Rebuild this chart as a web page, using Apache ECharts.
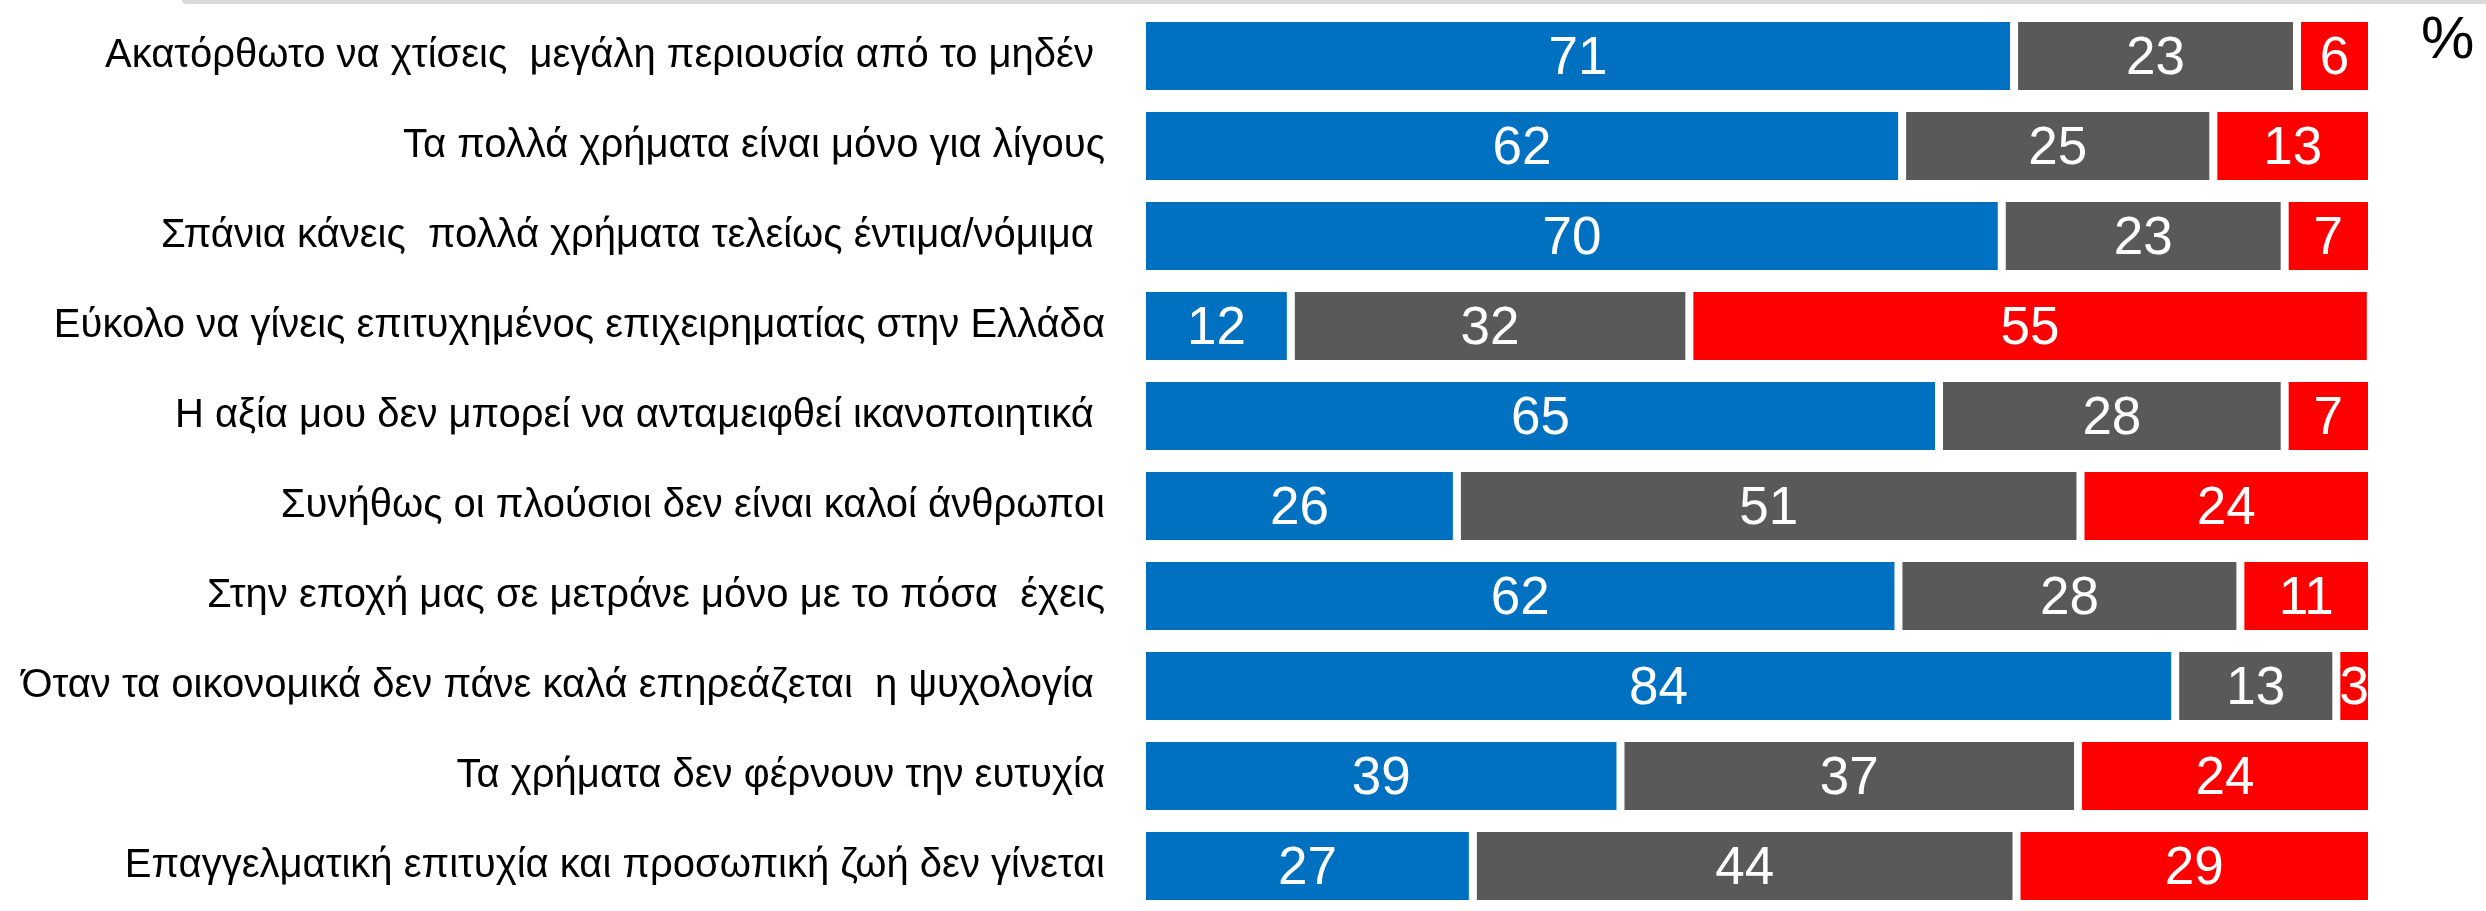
<!DOCTYPE html>
<html>
<head>
<meta charset="utf-8">
<title>Χρήματα</title>
<script src="https://cdn.jsdelivr.net/npm/echarts@6/dist/echarts.min.js"></script>
<style>
    html, body { margin: 0; padding: 0; background: #fff; }
    #chart { width: 2486px; height: 911px; }
</style>
</head>
<body>
<div id="chart"></div>
<script>
var categories = [
    'Ακατόρθωτο να χτίσεις  μεγάλη περιουσία από το μηδέν ',
    'Τα πολλά χρήματα είναι μόνο για λίγους',
    'Σπάνια κάνεις  πολλά χρήματα τελείως έντιμα/νόμιμα ',
    'Εύκολο να γίνεις επιτυχημένος επιχειρηματίας στην Ελλάδα',
    'Η αξία μου δεν μπορεί να ανταμειφθεί ικανοποιητικά ',
    'Συνήθως οι πλούσιοι δεν είναι καλοί άνθρωποι',
    'Στην εποχή μας σε μετράνε μόνο με το πόσα  έχεις',
    'Όταν τα οικονομικά δεν πάνε καλά επηρεάζεται  η ψυχολογία ',
    'Τα χρήματα δεν φέρνουν την ευτυχία',
    'Επαγγελματική επιτυχία και προσωπική ζωή δεν γίνεται'
];

// ποσοστά (%) - οι ετικέτες δείχνουν στρογγυλεμένες τιμές
var agree = [70.9, 61.8, 69.9, 12.1, 64.8, 25.6, 61.5, 84.0, 38.9, 26.9];
var neutral = [23.0, 25.3, 23.0, 32.4, 28.1, 50.7, 27.8, 13.1, 37.2, 44.2];
var disagree = [6.1, 12.9, 7.1, 55.4, 7.1, 23.7, 10.7, 2.9, 23.9, 28.9];

var colors = ['#0070C0', '#595959', '#FF0000'];

var myChart = echarts.init(document.getElementById('chart'));

function barSeries(name, data, color) {
    return {
        name: name,
        type: 'bar',
        stack: 'total',
        data: data,
        barWidth: 76,
        itemStyle: {
            color: color,
            borderColor: '#ffffff',
            borderWidth: 4
        },
        label: {
            show: true,
            position: 'inside',
            offset: [0, 3],
            color: '#ffffff',
            fontSize: 53,
            fontFamily: 'Liberation Sans, Arial, sans-serif',
            formatter: function (p) {
                return Math.round(p.value);
            }
        }
    };
}

var option = {
    animation: false,
    backgroundColor: '#ffffff',
    grid: {
        left: 1142,
        right: 114,
        top: 11,
        height: 912
    },
    xAxis: {
        type: 'value',
        min: 0,
        max: 100,
        show: false
    },
    yAxis: {
        type: 'category',
        inverse: true,
        data: categories,
        axisLine: { show: false },
        axisTick: { show: false },
        axisLabel: {
            margin: 37,
            color: '#000000',
            fontSize: 40,
            padding: [4, 0, 0, 0],
            fontFamily: 'Liberation Sans, Arial, sans-serif'
        }
    },
    graphic: [
        {
            type: 'rect',
            shape: { x: 182, y: -4, width: 2320, height: 8, r: 4 },
            style: { fill: '#d9d9d9' }
        },
        {
            type: 'text',
            left: 2421,
            top: 11,
            style: {
                text: '%',
                fill: '#000000',
                fontSize: 60,
                fontFamily: 'Liberation Sans, Arial, sans-serif'
            }
        }
    ],
    series: [
        barSeries('Συμφωνώ', agree, colors[0]),
        barSeries('Ούτε/ούτε', neutral, colors[1]),
        barSeries('Διαφωνώ', disagree, colors[2])
    ]
};

myChart.setOption(option, true);
</script>
</body>
</html>
